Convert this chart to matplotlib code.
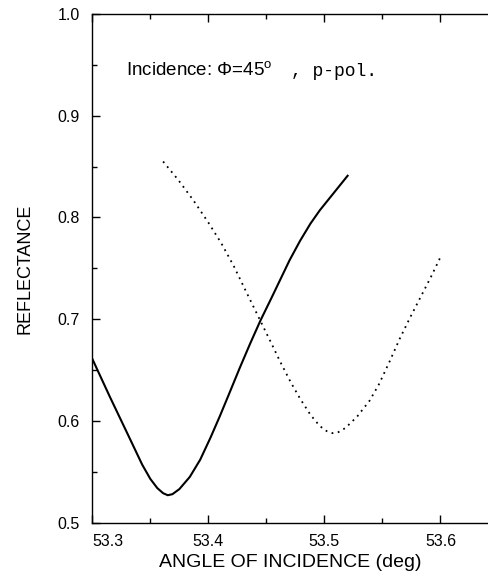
import matplotlib
matplotlib.use('Agg')
import matplotlib.pyplot as plt
import numpy as np

plt.rcParams['font.family'] = ['Liberation Sans', 'DejaVu Sans']
plt.rcParams['mathtext.fontset'] = 'custom'
plt.rcParams['mathtext.rm'] = 'Liberation Sans'

# solid curve
solid_x = [53.300, 53.315, 53.333, 53.343, 53.350, 53.356, 53.361, 53.365, 53.369,
           53.375, 53.384, 53.393, 53.402, 53.410, 53.418, 53.427, 53.436, 53.445,
           53.454, 53.462, 53.470, 53.479, 53.488, 53.496, 53.508, 53.520]
solid_y = [0.661, 0.624, 0.581, 0.557, 0.543, 0.534, 0.529, 0.527, 0.528,
           0.533, 0.545, 0.562, 0.584, 0.605, 0.627, 0.652, 0.676, 0.699,
           0.720, 0.739, 0.758, 0.777, 0.794, 0.807, 0.824, 0.841]

# dotted curve
dot_x = [53.361, 53.374, 53.387, 53.400, 53.411, 53.422, 53.433, 53.445, 53.454,
         53.462, 53.471, 53.479, 53.488, 53.496, 53.502, 53.507, 53.512, 53.518,
         53.528, 53.539, 53.547, 53.556, 53.565, 53.574, 53.583, 53.592, 53.600]
dot_y = [0.855, 0.837, 0.817, 0.795, 0.775, 0.752, 0.726, 0.698, 0.677,
         0.658, 0.638, 0.622, 0.606, 0.595, 0.590, 0.588, 0.589, 0.593,
         0.604, 0.620, 0.636, 0.658, 0.681, 0.702, 0.722, 0.742, 0.761]

xticks = [53.3, 53.4, 53.5, 53.6]
yticks = [0.5, 0.6, 0.7, 0.8, 0.9, 1.0]

fig = plt.figure(figsize=(4.89, 5.73), dpi=100)
ax = fig.add_axes([0.1888, 0.0878, 0.8092, 0.8878])

ax.plot(solid_x, solid_y, color='black', lw=1.5)
ax.plot(dot_x, dot_y, color='black', lw=1.3, linestyle=(0, (1, 2.5)))

ax.set_xlim(53.3, 53.641)
ax.set_ylim(0.5, 1.0)
ax.set_xticks(xticks)
ax.set_xticks(np.arange(53.35, 53.64, 0.1), minor=True)
ax.set_yticks(yticks)
ax.set_yticks(np.arange(0.55, 1.0, 0.1), minor=True)
ax.set_xticklabels(['%.1f' % v for v in xticks])
ax.set_yticklabels(['%.1f' % v for v in yticks])
ax.get_xticklabels()[0].set_ha('left')

ax.spines['right'].set_visible(False)
for s in ['left', 'bottom', 'top']:
    ax.spines[s].set_linewidth(1.0)
ax.tick_params(which='both', direction='in', top=True, right=False, width=1.0)
ax.tick_params(which='major', length=6)
ax.tick_params(which='minor', length=3.5)
ax.tick_params(axis='both', labelsize=11.5)
ax.tick_params(axis='x', pad=8)
ax.tick_params(axis='y', pad=9)

ax.set_xlabel('ANGLE OF INCIDENCE (deg)', fontsize=14, labelpad=4)
ax.set_ylabel('REFLECTANCE', fontsize=13, labelpad=17)

ax.text(0.085, 0.878, 'Incidence: \u03a6=45$^{\\mathrm{o}}$', transform=ax.transAxes,
        fontsize=13.5, ha='left', va='baseline')
ax.text(0.501, 0.878, ', p-pol.', transform=ax.transAxes, family='Liberation Mono',
        fontsize=13, ha='left', va='baseline')

plt.savefig('out.png', dpi=100)
